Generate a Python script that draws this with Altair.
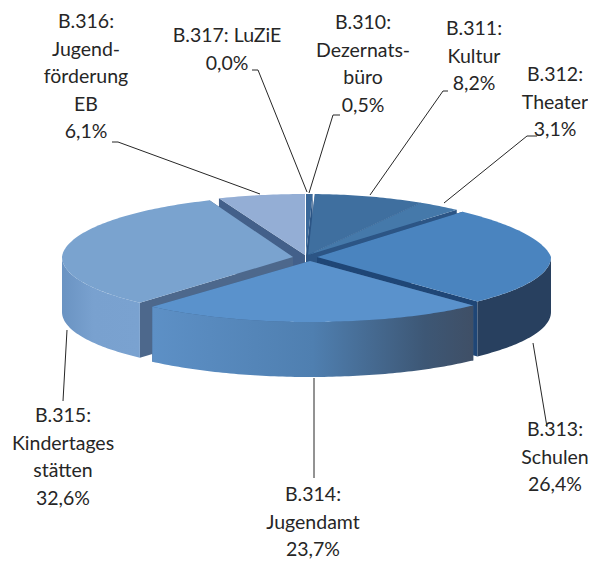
import math
import altair as alt

# --- data ---
CODES = ["B.310", "B.311", "B.312", "B.313", "B.314", "B.315", "B.316", "B.317"]
NAMES = ["Dezernats-\nbüro", "Kultur", "Theater", "Schulen", "Jugendamt",
         "Kindertages\nstätten", "Jugend-\nförderung\nEB", "LuZiE"]
VALUES = [0.5, 8.2, 3.1, 26.4, 23.7, 32.6, 6.1, 0.0]

# --- styling / layout (pixels in the page) ---
TOP = ["#3a6899", "#3f6f9f", "#4579aa", "#4a84bf", "#5a92cc", "#7aa3cf", "#94aed5", "#94aed5"]
FACE = ["#2c5585", "#2c5585", "#2c5585", "#1f4676", "#3f5f85", "#4d688c", "#43608a", "#43608a"]
WALL = ["#2c4a70", "#2c4a70", "#2c4a70", "#28405f", None, None, "#6f8fb8", "#6f8fb8"]
TIPS = [(306, 255), (308, 255), (308, 255), (317, 257), (310, 261), (293, 257), (305, 255), (305, 255)]
RADII = [239, 239, 239, 234, 238, 231, 238, 238]
DRAW_ORDER = [6, 7, 0, 1, 2, 3, 5, 4]
GRADIENTS = {
    4: [("#5d90c6", 0), ("#4f7fb0", 0.5), ("#3d5775", 0.85), ("#3f4f66", 1)],
    5: [("#6a93c2", 0), ("#79a1cf", 0.4), ("#7aa2d0", 1)],
}
RY, DEPTH = 61, 55
LABEL_POS = [(363, 23), (474, 29), (555, 75), (555, 430), (313, 495), (63, 416), (86, 22), (227, 36)]
LINE_H = 27.5
LEADERS = [
    [(340, 115), (333, 115), (309, 193)],
    [(448, 91), (443, 91), (370, 195)],
    [(537, 136), (527, 136), (444, 203)],
    [(533, 343), (547, 427)],
    [(314, 378), (314, 478)],
    [(67, 330), (63, 401)],
    [(112, 142), (118, 142), (260, 194)],
    [(252, 70), (258, 70), (307, 192)],
]
W, H = 580, 552
MARGIN = 8

total = sum(VALUES)
bounds = [0.0]
for v in VALUES:
    bounds.append(bounds[-1] + v / total * 360.0)


def pt(i, deg, dy=0.0):
    t = math.radians(deg)
    s, c = math.sin(t), math.cos(t)
    f = 1.0
    if c > 0:
        f = 1 - (0.1 if s > 0 else 0.03) * c
    return [TIPS[i][0] + RADII[i] * s * f, TIPS[i][1] - RY * c + dy]


def arc(i, a, b):
    n = max(2, int(abs(b - a)) + 2)
    return [pt(i, a + (b - a) * k / (n - 1)) for k in range(n)]


def feature(points):
    ring = [list(p) for p in points] + [list(points[0])]
    return {"type": "Feature", "properties": {}, "geometry": {"type": "Polygon", "coordinates": [ring]}}


PROJ = alt.Projection(type="identity", scale=1, translate=[-MARGIN, -MARGIN])


def shape(points, fill):
    return alt.Chart(alt.Data(values=[feature(points)])).mark_geoshape(
        fill=fill, stroke=None, strokeWidth=0
    ).project(**PROJ.to_dict())


def grad(stops):
    return alt.Gradient(
        gradient="linear", x1=0, x2=1, y1=0, y2=0,
        stops=[alt.GradientStop(color=c, offset=o) for c, o in stops],
    )


layers = []
for i in DRAW_ORDER:
    a, b = bounds[i], bounds[i + 1]
    if b - a < 0.01:
        continue
    tip = list(TIPS[i])
    for ang in (a, b):
        o = pt(i, ang)
        layers.append(shape([tip, o, [o[0], o[1] + DEPTH], [tip[0], tip[1] + DEPTH]], FACE[i]))
    # outer wall, visible part only
    wa, wb = max(a, 90.0), min(b, 270.0)
    if wb > wa:
        rim = arc(i, wa, wb)
        lower = [[p[0], p[1] + DEPTH] for p in reversed(rim)]
        fill = grad(GRADIENTS[i]) if i in GRADIENTS else WALL[i]
        layers.append(shape(rim + lower, fill))
    # top surface
    layers.append(shape([tip] + arc(i, a, b), TOP[i]))

xs = alt.Scale(domain=[MARGIN, MARGIN + W], range=[0, W])
ys = alt.Scale(domain=[MARGIN, MARGIN + H], range=[0, H])

leader_rows = []
for i, pts in enumerate(LEADERS):
    for k, (x, y) in enumerate(pts):
        leader_rows.append({"id": CODES[i], "k": k, "x": x, "y": y})
leaders = alt.Chart(alt.Data(values=leader_rows)).mark_line(color="#262626", strokeWidth=1).encode(
    x=alt.X("x:Q", scale=xs, axis=None),
    y=alt.Y("y:Q", scale=ys, axis=None),
    detail="id:N",
    order="k:Q",
)

label_rows = []
for i in range(len(CODES)):
    pct = f"{VALUES[i]:.1f}%".replace(".", ",")
    if CODES[i] == "B.317":
        lines = [f"{CODES[i]}: {NAMES[i]}", pct]
    else:
        lines = [f"{CODES[i]}:"] + NAMES[i].split("\n") + [pct]
    for k, t in enumerate(lines):
        label_rows.append({"x": LABEL_POS[i][0], "y": LABEL_POS[i][1] + k * LINE_H, "t": t})
labels = alt.Chart(alt.Data(values=label_rows)).mark_text(
    font="Lato", fontSize=19.5, color="#262626", align="center", baseline="middle"
).encode(
    x=alt.X("x:Q", scale=xs, axis=None),
    y=alt.Y("y:Q", scale=ys, axis=None),
    text="t:N",
)

chart = alt.layer(*layers, leaders, labels).properties(
    width=W, height=H, padding=0, autosize=alt.AutoSizeParams(type="none"),
    background="white",
).configure_view(stroke=None)

chart.save("out.html", embed_options={"renderer": "svg", "actions": False})
